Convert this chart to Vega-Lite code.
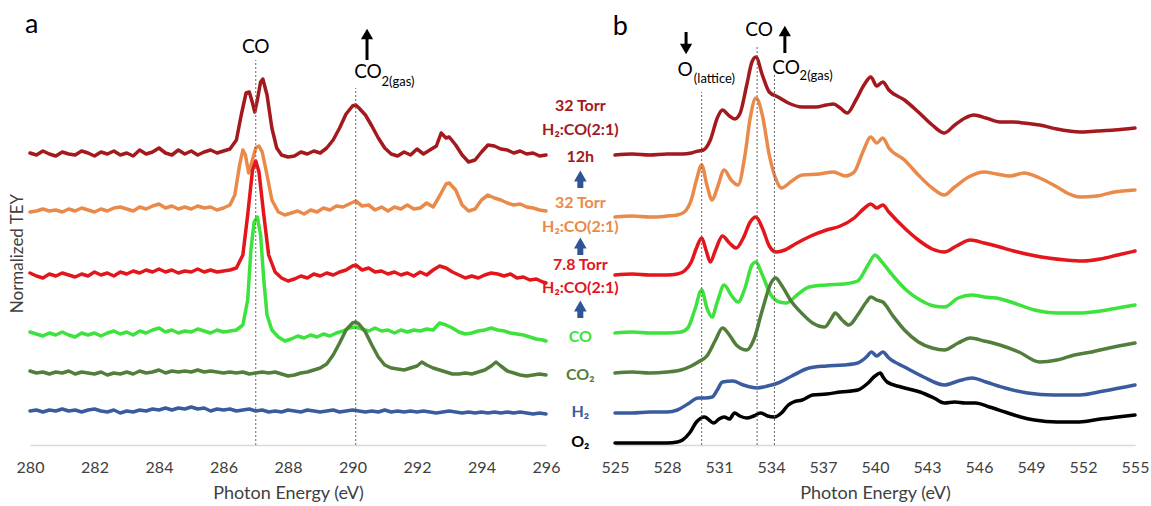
{
  "$schema": "https://vega.github.io/schema/vega-lite/v6.json",
  "background": "white",
  "padding": {"left": 8, "top": 10, "right": 5, "bottom": 0},
  "bounds": "flush",
  "spacing": 69,
  "config": {
    "view": {"stroke": null},
    "font": "Lato",
    "axis": {
      "grid": false,
      "ticks": false,
      "domainColor": "#d9d9d9",
      "domainWidth": 1.5,
      "labelFontSize": 16,
      "labelColor": "#404040",
      "labelPadding": 14,
      "labelFlush": false,
      "titleFontSize": 18,
      "titleFontWeight": "normal",
      "titleColor": "#404040",
      "titlePadding": 9
    }
  },
  "datasets": {
    "carbon_edge": [
      {"s": "32 Torr, 12 h",
       "e": [280.0,280.2,280.4,280.6,280.8,281.0,281.2,281.4,281.6,281.8,282.0,282.2,282.4,282.6,282.8,283.0,283.2,283.4,283.6,283.8,284.0,284.2,284.4,284.6,284.8,285.0,285.2,285.4,285.6,285.8,286.0,286.2,286.4,286.55,286.7,286.8,286.9,286.97,287.05,287.15,287.22,287.35,287.5,287.65,287.8,288.0,288.2,288.4,288.6,288.8,289.0,289.2,289.4,289.6,289.8,290.0,290.1,290.2,290.4,290.6,290.8,291.0,291.2,291.4,291.6,291.8,292.0,292.2,292.4,292.6,292.75,292.9,293.0,293.2,293.4,293.6,293.8,294.0,294.2,294.4,294.6,294.8,295.0,295.2,295.4,295.6,295.8,296.0],
       "v": [2.92,2.90,2.94,2.91,2.89,2.93,2.91,2.90,2.94,2.92,2.89,2.93,2.91,2.94,2.90,2.92,2.89,2.95,2.91,2.93,2.97,2.92,2.90,2.95,2.91,2.94,2.90,2.93,2.95,2.92,2.94,2.96,3.05,3.30,3.52,3.53,3.42,3.33,3.45,3.63,3.66,3.50,3.17,2.97,2.90,2.88,2.89,2.93,2.91,2.94,2.92,2.97,3.05,3.17,3.31,3.39,3.40,3.37,3.30,3.19,3.07,2.97,2.91,2.89,2.93,2.90,2.96,2.91,2.95,2.99,3.12,3.07,3.08,3.00,2.90,2.83,2.85,2.93,3.00,2.99,2.96,2.95,2.92,2.94,2.91,2.92,2.89,2.90]},
      {"s": "32 Torr",
       "e": [280.0,280.2,280.4,280.6,280.8,281.0,281.2,281.4,281.6,281.8,282.0,282.2,282.4,282.6,282.8,283.0,283.2,283.4,283.6,283.8,284.0,284.2,284.4,284.6,284.8,285.0,285.2,285.4,285.6,285.8,286.0,286.2,286.35,286.5,286.6,286.68,286.78,286.88,287.0,287.1,287.2,287.35,287.5,287.7,287.9,288.1,288.3,288.5,288.7,288.9,289.1,289.3,289.5,289.7,289.9,290.1,290.3,290.5,290.7,290.9,291.1,291.3,291.5,291.7,291.9,292.1,292.3,292.5,292.7,292.9,293.0,293.2,293.4,293.6,293.8,294.0,294.2,294.4,294.6,294.8,295.0,295.2,295.4,295.6,295.8,296.0],
       "v": [2.33,2.34,2.36,2.34,2.35,2.33,2.36,2.34,2.37,2.35,2.33,2.36,2.34,2.37,2.38,2.36,2.34,2.38,2.36,2.39,2.41,2.37,2.39,2.36,2.38,2.36,2.39,2.37,2.38,2.35,2.37,2.40,2.50,2.80,2.95,2.90,2.72,2.83,2.97,2.99,2.93,2.70,2.45,2.33,2.30,2.32,2.34,2.31,2.35,2.33,2.37,2.35,2.39,2.38,2.41,2.44,2.39,2.40,2.35,2.38,2.34,2.38,2.36,2.40,2.36,2.37,2.42,2.38,2.49,2.61,2.62,2.55,2.40,2.34,2.36,2.45,2.50,2.47,2.45,2.42,2.40,2.41,2.38,2.37,2.35,2.34]},
      {"s": "7.8 Torr",
       "e": [280.0,280.2,280.4,280.6,280.8,281.0,281.2,281.4,281.6,281.8,282.0,282.2,282.4,282.6,282.8,283.0,283.2,283.4,283.6,283.8,284.0,284.2,284.4,284.6,284.8,285.0,285.2,285.4,285.6,285.8,286.0,286.2,286.4,286.6,286.75,286.9,287.0,287.1,287.25,287.4,287.6,287.8,288.0,288.2,288.4,288.6,288.8,289.0,289.2,289.4,289.6,289.8,290.0,290.1,290.3,290.5,290.7,290.9,291.1,291.3,291.5,291.7,291.9,292.1,292.3,292.5,292.7,292.9,293.1,293.3,293.5,293.7,293.9,294.1,294.3,294.5,294.7,294.9,295.1,295.3,295.5,295.7,295.9,296.0],
       "v": [1.72,1.69,1.67,1.71,1.69,1.72,1.70,1.68,1.71,1.69,1.73,1.70,1.72,1.69,1.73,1.71,1.74,1.72,1.75,1.73,1.76,1.73,1.75,1.72,1.74,1.73,1.76,1.73,1.75,1.73,1.74,1.75,1.77,1.90,2.30,2.75,2.84,2.73,2.30,1.90,1.73,1.67,1.64,1.66,1.69,1.67,1.71,1.69,1.72,1.70,1.73,1.75,1.79,1.80,1.75,1.77,1.73,1.74,1.71,1.73,1.70,1.72,1.69,1.73,1.70,1.75,1.79,1.77,1.73,1.70,1.67,1.69,1.67,1.70,1.72,1.71,1.69,1.71,1.67,1.68,1.65,1.66,1.63,1.62]},
      {"s": "CO",
       "e": [280.0,280.2,280.4,280.6,280.8,281.0,281.2,281.4,281.6,281.8,282.0,282.2,282.4,282.6,282.8,283.0,283.2,283.4,283.6,283.8,284.0,284.2,284.4,284.6,284.8,285.0,285.2,285.4,285.6,285.8,286.0,286.2,286.4,286.6,286.75,286.85,286.95,287.05,287.15,287.25,287.35,287.5,287.7,287.9,288.1,288.3,288.5,288.7,288.9,289.1,289.3,289.5,289.7,289.9,290.1,290.3,290.5,290.7,290.9,291.1,291.3,291.5,291.7,291.9,292.1,292.3,292.5,292.7,292.9,293.1,293.3,293.5,293.7,293.9,294.1,294.3,294.5,294.7,294.9,295.1,295.3,295.5,295.7,295.9,296.0],
       "v": [1.13,1.11,1.09,1.12,1.10,1.13,1.10,1.08,1.12,1.10,1.12,1.09,1.12,1.14,1.11,1.13,1.10,1.14,1.12,1.15,1.17,1.13,1.15,1.12,1.14,1.13,1.16,1.14,1.12,1.15,1.13,1.14,1.15,1.20,1.45,1.95,2.23,2.28,2.10,1.65,1.30,1.15,1.08,1.04,1.06,1.09,1.07,1.10,1.08,1.11,1.09,1.12,1.14,1.17,1.18,1.16,1.14,1.17,1.14,1.15,1.12,1.15,1.13,1.15,1.14,1.16,1.15,1.22,1.20,1.17,1.13,1.11,1.12,1.14,1.15,1.17,1.15,1.14,1.12,1.11,1.10,1.08,1.06,1.05,1.04]},
      {"s": "CO2",
       "e": [280.0,280.2,280.4,280.6,280.8,281.0,281.2,281.4,281.6,281.8,282.0,282.2,282.4,282.6,282.8,283.0,283.2,283.4,283.6,283.8,284.0,284.2,284.4,284.6,284.8,285.0,285.2,285.4,285.6,285.8,286.0,286.2,286.4,286.6,286.8,287.0,287.2,287.4,287.6,287.8,288.0,288.2,288.4,288.6,288.8,289.0,289.2,289.4,289.6,289.8,290.0,290.1,290.2,290.4,290.6,290.8,291.0,291.2,291.4,291.6,291.8,292.0,292.15,292.3,292.5,292.7,292.9,293.1,293.3,293.5,293.7,293.9,294.1,294.3,294.45,294.6,294.8,295.0,295.2,295.4,295.6,295.8,296.0],
       "v": [0.74,0.72,0.73,0.71,0.73,0.72,0.74,0.71,0.73,0.72,0.71,0.73,0.70,0.72,0.71,0.73,0.71,0.74,0.72,0.73,0.75,0.72,0.74,0.73,0.74,0.73,0.75,0.73,0.74,0.73,0.72,0.73,0.72,0.73,0.71,0.72,0.73,0.72,0.73,0.71,0.69,0.70,0.72,0.73,0.75,0.77,0.81,0.90,1.02,1.15,1.22,1.23,1.21,1.13,1.00,0.88,0.80,0.77,0.76,0.75,0.77,0.79,0.83,0.80,0.77,0.75,0.73,0.71,0.71,0.72,0.71,0.73,0.75,0.79,0.83,0.79,0.74,0.72,0.70,0.69,0.70,0.71,0.70]},
      {"s": "H2",
       "e": [280.0,280.2,280.4,280.6,280.8,281.0,281.2,281.4,281.6,281.8,282.0,282.2,282.4,282.6,282.8,283.0,283.2,283.4,283.6,283.8,284.0,284.2,284.4,284.6,284.8,285.0,285.2,285.4,285.6,285.8,286.0,286.2,286.4,286.6,286.8,287.0,287.2,287.4,287.6,287.8,288.0,288.2,288.4,288.6,288.8,289.0,289.2,289.4,289.6,289.8,290.0,290.2,290.4,290.6,290.8,291.0,291.2,291.4,291.6,291.8,292.0,292.2,292.4,292.6,292.8,293.0,293.2,293.4,293.6,293.8,294.0,294.2,294.4,294.6,294.8,295.0,295.2,295.4,295.6,295.8,296.0],
       "v": [0.34,0.35,0.33,0.35,0.34,0.36,0.34,0.35,0.33,0.35,0.36,0.34,0.33,0.35,0.32,0.34,0.33,0.35,0.34,0.36,0.35,0.37,0.35,0.37,0.36,0.38,0.36,0.37,0.34,0.36,0.35,0.36,0.34,0.35,0.36,0.34,0.35,0.33,0.34,0.33,0.35,0.34,0.33,0.35,0.34,0.33,0.34,0.35,0.33,0.34,0.35,0.34,0.33,0.34,0.33,0.35,0.33,0.34,0.33,0.34,0.33,0.34,0.33,0.32,0.33,0.34,0.33,0.32,0.33,0.32,0.33,0.32,0.33,0.32,0.33,0.32,0.33,0.32,0.31,0.32,0.31]}
    ],
    "oxygen_edge": [
      {"s": "32 Torr, 12 h",
       "e": [525.0,526.0,527.0,528.0,528.9,529.4,529.8,530.1,530.5,530.9,531.2,531.6,531.9,532.2,532.6,532.9,533.13,533.5,533.9,534.4,535.0,535.8,536.6,537.2,537.6,538.0,538.4,538.9,539.4,539.76,540.1,540.45,540.8,541.7,542.5,543.3,544.0,544.6,545.2,545.7,546.4,547.2,548.0,548.6,549.5,550.5,551.2,551.8,552.8,553.8,555.0],
       "v": [2.90,2.91,2.90,2.91,2.91,2.92,2.94,2.95,3.05,3.27,3.35,3.29,3.26,3.31,3.60,3.83,3.88,3.70,3.53,3.48,3.42,3.38,3.38,3.40,3.41,3.37,3.32,3.45,3.61,3.68,3.59,3.63,3.55,3.45,3.33,3.20,3.12,3.20,3.27,3.30,3.27,3.23,3.23,3.22,3.20,3.16,3.14,3.13,3.14,3.15,3.17]},
      {"s": "32 Torr",
       "e": [525.0,526.0,527.0,528.0,528.6,529.0,529.4,529.7,530.0,530.3,530.6,530.9,531.3,531.7,532.1,532.5,532.8,533.13,533.5,533.9,534.3,534.6,535.2,535.8,536.8,537.6,538.3,538.8,539.3,539.76,540.1,540.45,540.8,541.7,542.5,543.3,544.0,544.6,545.4,546.3,547.0,547.8,548.6,549.5,550.5,551.2,551.8,552.8,553.8,555.0],
       "v": [2.28,2.29,2.28,2.29,2.30,2.33,2.45,2.65,2.80,2.60,2.45,2.57,2.75,2.65,2.60,2.90,3.27,3.47,3.30,2.90,2.65,2.57,2.64,2.70,2.71,2.73,2.69,2.73,2.93,3.08,3.02,3.07,2.97,2.85,2.70,2.57,2.50,2.58,2.68,2.73,2.71,2.69,2.72,2.67,2.58,2.51,2.48,2.49,2.53,2.55]},
      {"s": "7.8 Torr",
       "e": [525.0,526.0,527.0,528.0,528.6,529.0,529.4,529.7,530.0,530.25,530.5,530.8,531.2,531.6,532.0,532.4,532.8,533.13,533.5,533.9,534.3,534.8,535.5,536.3,537.2,538.0,538.8,539.4,539.76,540.1,540.45,540.8,541.7,542.5,543.3,544.0,544.7,545.5,546.3,547.2,548.0,549.0,550.0,551.0,552.0,553.0,554.0,555.0],
       "v": [1.70,1.71,1.70,1.70,1.71,1.74,1.83,1.97,2.07,1.95,1.83,1.95,2.09,2.02,1.97,2.07,2.23,2.28,2.17,1.99,1.93,1.95,2.02,2.09,2.15,2.19,2.27,2.37,2.41,2.37,2.40,2.33,2.17,2.05,1.96,1.93,1.99,2.05,2.02,1.98,1.94,1.90,1.87,1.85,1.84,1.86,1.90,1.94]},
      {"s": "CO",
       "e": [525.0,526.0,527.0,528.0,528.8,529.2,529.6,530.0,530.3,530.6,530.9,531.3,531.7,532.1,532.5,532.9,533.13,533.5,534.0,534.5,534.9,535.5,536.2,537.2,538.2,539.0,539.6,540.0,540.4,541.0,541.8,542.6,543.4,544.0,544.8,545.6,546.3,547.0,548.0,549.2,550.5,551.8,553.0,554.0,555.0],
       "v": [1.12,1.13,1.12,1.12,1.13,1.17,1.35,1.55,1.37,1.28,1.43,1.60,1.50,1.43,1.57,1.80,1.83,1.70,1.50,1.43,1.42,1.50,1.58,1.60,1.61,1.64,1.80,1.90,1.83,1.70,1.55,1.45,1.39,1.38,1.47,1.50,1.48,1.47,1.42,1.35,1.32,1.32,1.34,1.37,1.40]},
      {"s": "CO2",
       "e": [525.0,526.0,527.0,528.0,528.8,529.4,529.8,530.3,530.8,531.2,531.6,532.0,532.6,533.0,533.5,534.0,534.27,534.6,535.2,535.76,536.4,537.1,537.5,537.7,538.1,538.5,539.0,539.5,539.76,540.1,540.45,541.0,541.7,542.5,543.3,544.0,544.8,545.5,546.3,547.2,548.3,549.5,550.5,551.5,552.5,553.5,555.0],
       "v": [0.72,0.73,0.72,0.73,0.75,0.79,0.83,0.89,1.05,1.17,1.10,1.00,0.95,1.05,1.35,1.62,1.67,1.60,1.43,1.32,1.22,1.18,1.27,1.32,1.25,1.20,1.30,1.43,1.48,1.45,1.43,1.30,1.15,1.03,0.97,0.95,1.02,1.07,1.04,1.00,0.93,0.83,0.85,0.90,0.93,0.97,1.02]},
      {"s": "H2",
       "e": [525.0,526.0,527.0,528.0,528.6,529.2,529.8,530.2,530.6,530.9,531.2,531.8,532.4,533.2,533.8,534.4,535.2,536.2,537.2,538.2,539.0,539.5,539.8,540.1,540.45,540.8,541.7,542.8,544.0,544.8,545.6,546.4,547.5,548.8,550.3,551.8,553.2,555.0],
       "v": [0.32,0.32,0.33,0.33,0.35,0.41,0.47,0.47,0.48,0.55,0.63,0.64,0.60,0.57,0.59,0.62,0.69,0.77,0.79,0.80,0.82,0.88,0.93,0.89,0.93,0.87,0.78,0.68,0.60,0.64,0.67,0.63,0.57,0.52,0.50,0.50,0.54,0.60]},
      {"s": "O2",
       "e": [525.0,526.0,527.0,528.0,528.6,528.9,529.3,529.7,530.16,530.7,531.0,531.3,531.6,531.9,532.2,532.6,533.0,533.4,533.8,534.2,534.6,535.0,535.3,535.8,536.4,537.2,538.0,539.0,539.6,540.0,540.3,540.5,540.7,541.5,542.6,543.4,544.0,544.6,545.2,545.8,546.6,547.5,548.4,549.2,550.5,551.8,553.0,554.0,555.0],
       "v": [0.02,0.02,0.02,0.02,0.03,0.05,0.12,0.23,0.28,0.22,0.26,0.28,0.26,0.32,0.29,0.27,0.29,0.32,0.29,0.28,0.32,0.40,0.43,0.45,0.50,0.51,0.53,0.55,0.62,0.69,0.72,0.67,0.63,0.58,0.53,0.47,0.42,0.43,0.42,0.42,0.38,0.33,0.28,0.25,0.23,0.23,0.26,0.28,0.30]}
    ],
    "carbon_guides": [{"e": 287.0, "base": 0, "top": 3.85}, {"e": 290.1, "base": 0, "top": 3.57}],
    "oxygen_guides": [{"e": 530.0, "base": 0, "top": 3.53}, {"e": 533.2, "base": 0, "top": 4.0}, {"e": 534.2, "base": 0, "top": 3.7}],
    "carbon_arrows": [{"e": 290.45, "from": 3.85, "to": 4.07, "head": 4.11, "dir": "up"}],
    "oxygen_arrows": [
      {"e": 529.1, "from": 4.13, "to": 3.99, "head": 3.96, "dir": "down"},
      {"e": 534.8, "from": 3.92, "to": 4.11, "head": 4.14, "dir": "up"}
    ],
    "sequence_arrows": [
      {"e": 523.0, "from": 2.57, "to": 2.66, "head": 2.69, "dir": "up"},
      {"e": 523.0, "from": 1.90, "to": 1.99, "head": 2.02, "dir": "up"},
      {"e": 523.0, "from": 1.27, "to": 1.36, "head": 1.39, "dir": "up"}
    ],
    "series_labels": [
      {"e": 523.0, "v": 3.39, "t": "32 Torr", "s": "32 Torr, 12 h"},
      {"e": 523.0, "v": 3.15, "t": "H₂:CO(2:1)", "s": "32 Torr, 12 h"},
      {"e": 523.0, "v": 2.88, "t": "12h", "s": "32 Torr, 12 h"},
      {"e": 523.0, "v": 2.42, "t": "32 Torr", "s": "32 Torr"},
      {"e": 523.0, "v": 2.18, "t": "H₂:CO(2:1)", "s": "32 Torr"},
      {"e": 523.0, "v": 1.80, "t": "7.8 Torr", "s": "7.8 Torr"},
      {"e": 523.0, "v": 1.57, "t": "H₂:CO(2:1)", "s": "7.8 Torr"},
      {"e": 523.0, "v": 1.08, "t": "CO", "s": "CO"},
      {"e": 523.0, "v": 0.70, "t": "CO₂", "s": "CO2"},
      {"e": 523.0, "v": 0.33, "t": "H₂", "s": "H2"},
      {"e": 523.0, "v": 0.03, "t": "O₂", "s": "O2"}
    ]
  },
  "hconcat": [
    {
      "width": 516,
      "height": 435,
      "layer": [
        {
          "data": {"name": "carbon_edge"},
          "transform": [{"flatten": ["e", "v"]}],
          "mark": {"type": "line", "strokeWidth": 3.5, "strokeJoin": "round", "strokeCap": "round"},
          "encoding": {
            "x": {
              "field": "e", "type": "quantitative",
              "scale": {"domain": [280, 296], "nice": false, "zero": false},
              "axis": {"title": "Photon Energy (eV)", "values": [280, 282, 284, 286, 288, 290, 292, 294, 296]}
            },
            "y": {
              "field": "v", "type": "quantitative",
              "scale": {"domain": [0, 4.35], "nice": false, "zero": false},
              "axis": {"title": "Normalized TEY", "labels": false, "domain": false, "minExtent": 0, "titleFontSize": 17, "titlePadding": 4, "titleY": 243}
            },
            "color": {
              "field": "s", "type": "nominal", "legend": null,
              "scale": {
                "domain": ["32 Torr, 12 h", "32 Torr", "7.8 Torr", "CO", "CO2", "H2", "O2"],
                "range": ["#a3191d", "#ea8a4a", "#e3161c", "#3de23d", "#517e3b", "#3a5c9f", "#000000"]
              }
            }
          }
        },
        {
          "data": {"name": "carbon_guides"},
          "mark": {"type": "rule", "color": "#666666", "strokeWidth": 1, "strokeDash": [2, 2]},
          "encoding": {
            "x": {"field": "e", "type": "quantitative"},
            "y": {"field": "base", "type": "quantitative"},
            "y2": {"field": "top"}
          }
        },
        {
          "data": {"name": "carbon_arrows"},
          "mark": {"type": "rule", "color": "#000000", "strokeWidth": 3},
          "encoding": {
            "x": {"field": "e", "type": "quantitative"},
            "y": {"field": "from", "type": "quantitative"},
            "y2": {"field": "to"}
          }
        },
        {
          "data": {"name": "carbon_arrows"},
          "mark": {"type": "point", "filled": true, "color": "#000000", "size": 150, "opacity": 1},
          "encoding": {
            "x": {"field": "e", "type": "quantitative"},
            "y": {"field": "head", "type": "quantitative"},
            "shape": {"field": "dir", "type": "nominal", "legend": null, "scale": {"domain": ["up", "down"], "range": ["triangle-up", "triangle-down"]}}
          }
        },
        {
          "data": {"values": [{"e": 280.05, "v": 4.2, "t": "a"}]},
          "mark": {"type": "text", "fontSize": 27, "color": "#000000", "align": "center", "baseline": "middle"},
          "encoding": {
            "x": {"field": "e", "type": "quantitative"},
            "y": {"field": "v", "type": "quantitative"},
            "text": {"field": "t", "type": "nominal"}
          }
        },
        {
          "data": {"values": [{"e": 287.0, "v": 3.98, "t": "CO"}, {"e": 290.48, "v": 3.73, "t": "CO"}]},
          "mark": {"type": "text", "fontSize": 19, "color": "#000000", "align": "center", "baseline": "middle"},
          "encoding": {
            "x": {"field": "e", "type": "quantitative"},
            "y": {"field": "v", "type": "quantitative"},
            "text": {"field": "t", "type": "nominal"}
          }
        },
        {
          "data": {"values": [{"e": 290.9, "v": 3.63, "t": "2(gas)"}]},
          "mark": {"type": "text", "fontSize": 13, "color": "#000000", "align": "left", "baseline": "middle"},
          "encoding": {
            "x": {"field": "e", "type": "quantitative"},
            "y": {"field": "v", "type": "quantitative"},
            "text": {"field": "t", "type": "nominal"}
          }
        }
      ]
    },
    {
      "width": 520,
      "height": 435,
      "layer": [
        {
          "data": {"name": "oxygen_edge"},
          "transform": [{"flatten": ["e", "v"]}],
          "mark": {"type": "line", "strokeWidth": 3.5, "strokeJoin": "round", "strokeCap": "round", "interpolate": "monotone"},
          "encoding": {
            "x": {
              "field": "e", "type": "quantitative",
              "scale": {"domain": [525, 555], "nice": false, "zero": false},
              "axis": {"title": "Photon Energy (eV)", "values": [525, 528, 531, 534, 537, 540, 543, 546, 549, 552, 555]}
            },
            "y": {
              "field": "v", "type": "quantitative",
              "scale": {"domain": [0, 4.35], "nice": false, "zero": false},
              "axis": null
            },
            "color": {
              "field": "s", "type": "nominal", "legend": null,
              "scale": {
                "domain": ["32 Torr, 12 h", "32 Torr", "7.8 Torr", "CO", "CO2", "H2", "O2"],
                "range": ["#a3191d", "#ea8a4a", "#e3161c", "#3de23d", "#517e3b", "#3a5c9f", "#000000"]
              }
            }
          }
        },
        {
          "data": {"name": "oxygen_guides"},
          "mark": {"type": "rule", "color": "#666666", "strokeWidth": 1, "strokeDash": [2, 2]},
          "encoding": {
            "x": {"field": "e", "type": "quantitative"},
            "y": {"field": "base", "type": "quantitative"},
            "y2": {"field": "top"}
          }
        },
        {
          "data": {"name": "series_labels"},
          "mark": {"type": "text", "fontSize": 16, "fontWeight": "bold", "align": "center", "baseline": "middle"},
          "encoding": {
            "x": {"field": "e", "type": "quantitative"},
            "y": {"field": "v", "type": "quantitative"},
            "text": {"field": "t", "type": "nominal"},
            "color": {"field": "s", "type": "nominal", "legend": null}
          }
        },
        {
          "data": {"name": "sequence_arrows"},
          "mark": {"type": "rule", "color": "#2f5597", "strokeWidth": 6},
          "encoding": {
            "x": {"field": "e", "type": "quantitative"},
            "y": {"field": "from", "type": "quantitative"},
            "y2": {"field": "to"}
          }
        },
        {
          "data": {"name": "sequence_arrows"},
          "mark": {"type": "point", "filled": true, "color": "#2f5597", "size": 160, "opacity": 1},
          "encoding": {
            "x": {"field": "e", "type": "quantitative"},
            "y": {"field": "head", "type": "quantitative"},
            "shape": {"field": "dir", "type": "nominal", "legend": null, "scale": {"domain": ["up", "down"], "range": ["triangle-up", "triangle-down"]}}
          }
        },
        {
          "data": {"name": "oxygen_arrows"},
          "mark": {"type": "rule", "color": "#000000", "strokeWidth": 3},
          "encoding": {
            "x": {"field": "e", "type": "quantitative"},
            "y": {"field": "from", "type": "quantitative"},
            "y2": {"field": "to"}
          }
        },
        {
          "data": {"name": "oxygen_arrows"},
          "mark": {"type": "point", "filled": true, "color": "#000000", "size": 150, "opacity": 1},
          "encoding": {
            "x": {"field": "e", "type": "quantitative"},
            "y": {"field": "head", "type": "quantitative"},
            "shape": {"field": "dir", "type": "nominal", "legend": null, "scale": {"domain": ["up", "down"], "range": ["triangle-up", "triangle-down"]}}
          }
        },
        {
          "data": {"values": [{"e": 525.3, "v": 4.18, "t": "b"}]},
          "mark": {"type": "text", "fontSize": 27, "color": "#000000", "align": "center", "baseline": "middle"},
          "encoding": {
            "x": {"field": "e", "type": "quantitative"},
            "y": {"field": "v", "type": "quantitative"},
            "text": {"field": "t", "type": "nominal"}
          }
        },
        {
          "data": {"values": [{"e": 533.31, "v": 4.15, "t": "CO"}, {"e": 534.87, "v": 3.77, "t": "CO"}, {"e": 529.04, "v": 3.75, "t": "O"}]},
          "mark": {"type": "text", "fontSize": 19, "color": "#000000", "align": "center", "baseline": "middle"},
          "encoding": {
            "x": {"field": "e", "type": "quantitative"},
            "y": {"field": "v", "type": "quantitative"},
            "text": {"field": "t", "type": "nominal"}
          }
        },
        {
          "data": {"values": [{"e": 535.65, "v": 3.69, "t": "2(gas)"}, {"e": 529.55, "v": 3.66, "t": "(lattice)"}]},
          "mark": {"type": "text", "fontSize": 13, "color": "#000000", "align": "left", "baseline": "middle"},
          "encoding": {
            "x": {"field": "e", "type": "quantitative"},
            "y": {"field": "v", "type": "quantitative"},
            "text": {"field": "t", "type": "nominal"}
          }
        }
      ]
    }
  ]
}
